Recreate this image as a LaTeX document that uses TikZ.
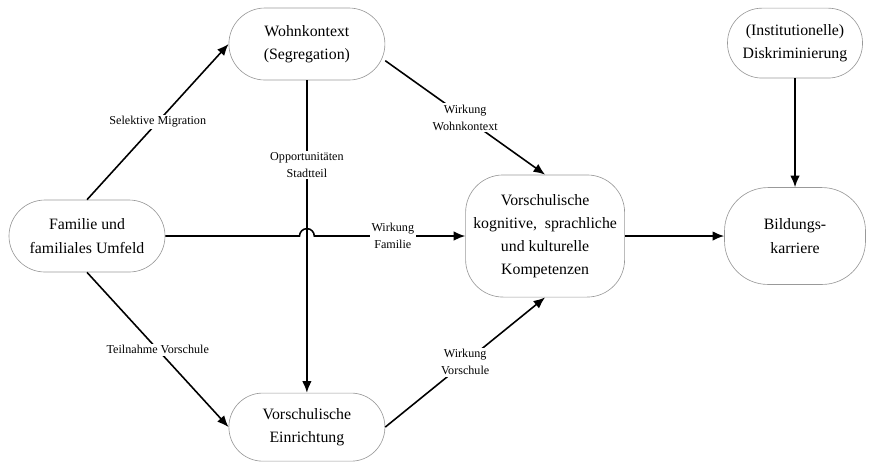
\documentclass[tikz,border=0pt]{standalone}
\usepackage{fontspec}
\setmainfont{Liberation Serif}
\usetikzlibrary{positioning, calc, arrows.meta}

\begin{document}
\begin{tikzpicture}[>={Latex[length=11pt,width=9pt]}, node distance=7.33cm,
    pill/.style={draw=gray!80, line width=0.6pt, fill=white, align=center, inner sep=2pt,
        font=\fontsize{15}{22}\selectfont, minimum width=5.2cm, minimum height=2.4cm, rounded corners=1.2cm},
    lbl/.style={fill=white, align=center, inner sep=1.5pt, font=\fontsize{11.5}{16}\selectfont},
    flow/.style={->, line width=1.5pt}]
    \useasboundingbox (-2.9,-7.567) rectangle (26.133,7.867);

    \node[pill] (fam) {Familie und\\familiales Umfeld};
    \node[pill, right of=fam, yshift=6.4cm] (wohn) {Wohnkontext\\(Segregation)};
    \node[pill, right of=fam, yshift=-6.37cm, minimum height=2.27cm, rounded corners=1.13cm] (einr) {Vorschulische\\Einrichtung};

    \node[pill, right of=fam, node distance=15.27cm, minimum width=5.3cm, minimum height=4.07cm, rounded corners=1.25cm] (komp) {Vorschulische\\kognitive,\ \ sprachliche\\und kulturelle\\Kompetenzen};
    \node[pill, right of=komp, node distance=8.33cm, minimum width=4.7cm, minimum height=3.23cm, rounded corners=1.45cm] (bild) {Bildungs-\\karriere};
    \node[pill, above of=bild, node distance=6.43cm, minimum width=4.5cm, minimum height=2.33cm, rounded corners=1.15cm] (disk) {(Institutionelle)\\Diskriminierung};

    \coordinate (jmp) at (wohn.south |- fam.east);

    \draw[flow] (fam.north) -- node[lbl] {Selektive Migration} (wohn.west);
    \draw[flow] (fam.south) -- node[lbl] {Teilnahme Vorschule} (einr.west);
    \draw[flow] (wohn.south) -- node[lbl, pos=0.27] {Opportunitäten\\Stadtteil} (einr.north);
    \draw[flow] (fam.east) -- ([xshift=-7pt]jmp) arc[start angle=180, end angle=0, radius=7pt]
        -- node[lbl, pos=0.52] {Wirkung\\Familie} (komp.west);
    \draw[flow] (wohn.-12) -- node[lbl] {Wirkung\\Wohnkontext} (komp.north);
    \draw[flow] (einr.east) -- node[lbl] {Wirkung\\Vorschule} (komp.south);
    \draw[flow] (komp.east) -- (bild.west);
    \draw[flow] (disk.south) -- (bild.north);
\end{tikzpicture}
\end{document}
